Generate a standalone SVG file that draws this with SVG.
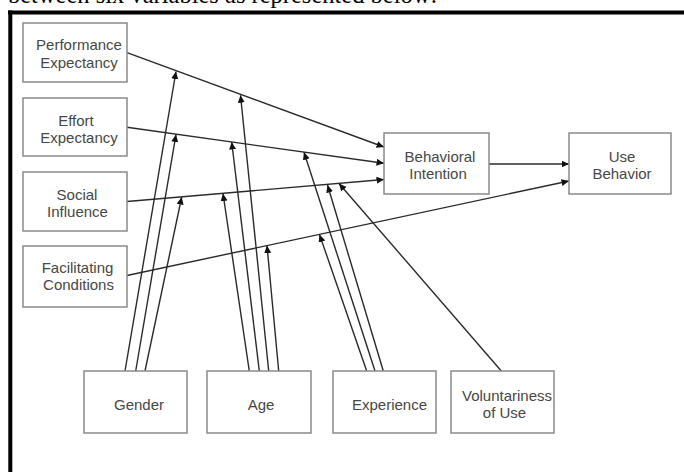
<svg xmlns="http://www.w3.org/2000/svg" width="684" height="472" viewBox="0 0 684 472">
<style>
.box{fill:#fff;stroke:#8a8a8a;stroke-width:1.5}
.lbl{font-family:"Liberation Sans",Arial,sans-serif;font-size:15px;fill:#474747;text-anchor:middle}
.con{fill:none;stroke:#2a2a2a;stroke-width:1.4;marker-end:url(#ah)}
</style>
<defs>
<marker id="ah" markerUnits="userSpaceOnUse" markerWidth="9" markerHeight="8" refX="7.5" refY="3.5" orient="auto">
<path d="M0,0 L7.5,3.5 L0,7 z" fill="#111"/>
</marker>
</defs>
<rect x="0" y="0" width="684" height="472" fill="#fff"/>
<text x="8" y="3" font-family="Liberation Serif,Times New Roman,serif" font-size="24.5" fill="#000">between six variables as represented below:</text>
<g id="frame">
<line x1="8" y1="12.5" x2="684" y2="12.5" stroke="#000" stroke-width="4"/>
<line x1="10.3" y1="10.5" x2="10.3" y2="472" stroke="#000" stroke-width="4"/>
</g>
<g id="connectors">
<path class="con" d="M127,52.7 L384,147"/>
<path class="con" d="M127,127.3 L384,163.3"/>
<path class="con" d="M127,201.5 L384,179.5"/>
<path class="con" d="M127,275.5 L569,181"/>
<path class="con" d="M489,164 L569,164"/>
<path class="con" d="M125,371 L176,71.5"/>
<path class="con" d="M135.7,371 L176,134.5"/>
<path class="con" d="M145,371 L181.7,197"/>
<path class="con" d="M249.3,371 L223,193.5"/>
<path class="con" d="M259.3,371 L231.7,142"/>
<path class="con" d="M268.7,371 L240.5,95.2"/>
<path class="con" d="M278.7,371 L267,245.6"/>
<path class="con" d="M366.7,371 L319.5,234.5"/>
<path class="con" d="M375,371 L304,152.2"/>
<path class="con" d="M383.3,371 L327.5,185"/>
<path class="con" d="M501.3,371 L339,183.5"/>
</g>
<g id="performance-expectancy">
<rect class="box" x="23" y="23" width="104" height="59"/>
<text class="lbl" x="79" y="50">Performance</text>
<text class="lbl" x="79" y="67.7">Expectancy</text>
</g>
<g id="effort-expectancy">
<rect class="box" x="23" y="98" width="104" height="58"/>
<text class="lbl" x="76" y="126">Effort</text>
<text class="lbl" x="79" y="142.7">Expectancy</text>
</g>
<g id="social-influence">
<rect class="box" x="23" y="172" width="104" height="59"/>
<text class="lbl" x="77" y="200">Social</text>
<text class="lbl" x="77.5" y="217">Influence</text>
</g>
<g id="facilitating-conditions">
<rect class="box" x="23" y="246" width="104" height="61"/>
<text class="lbl" x="77.5" y="273.3">Facilitating</text>
<text class="lbl" x="78.5" y="290.3">Conditions</text>
</g>
<g id="behavioral-intention">
<rect class="box" x="384" y="133" width="105" height="61"/>
<text class="lbl" x="440" y="161.7">Behavioral</text>
<text class="lbl" x="438" y="179.3">Intention</text>
</g>
<g id="use-behavior">
<rect class="box" x="569" y="133" width="102" height="61"/>
<text class="lbl" x="622" y="161.7">Use</text>
<text class="lbl" x="622" y="179">Behavior</text>
</g>
<g id="gender">
<rect class="box" x="84" y="371" width="103" height="62"/>
<text class="lbl" x="139" y="410">Gender</text>
</g>
<g id="age">
<rect class="box" x="207" y="371" width="104" height="62"/>
<text class="lbl" x="261" y="410">Age</text>
</g>
<g id="experience">
<rect class="box" x="333" y="371" width="103" height="62"/>
<text class="lbl" x="389.5" y="410.3">Experience</text>
</g>
<g id="voluntariness">
<rect class="box" x="451" y="371" width="103" height="62"/>
<text class="lbl" x="507" y="401">Voluntariness</text>
<text class="lbl" x="504.5" y="417.7">of Use</text>
</g>
</svg>
